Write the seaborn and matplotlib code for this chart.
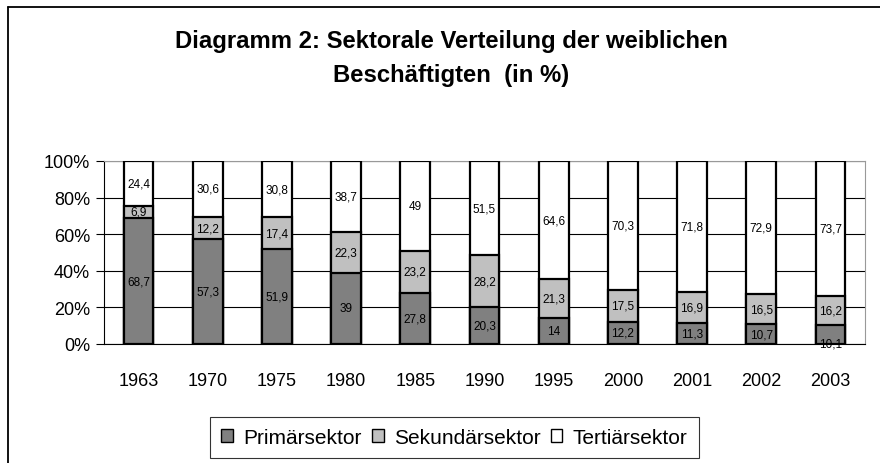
import numpy as np
import pandas as pd
import matplotlib
matplotlib.use("Agg")
import matplotlib.pyplot as plt
import seaborn as sns
from matplotlib.lines import Line2D
from matplotlib.patches import Patch

# === DATA ===
years = ["1963", "1970", "1975", "1980", "1985", "1990", "1995", "2000", "2001", "2002", "2003"]
primaer = [68.7, 57.3, 51.9, 39, 27.8, 20.3, 14, 12.2, 11.3, 10.7, 10.1]
sekundaer = [6.9, 12.2, 17.4, 22.3, 23.2, 28.2, 21.3, 17.5, 16.9, 16.5, 16.2]
tertiaer = [24.4, 30.6, 30.8, 38.7, 49, 51.5, 64.6, 70.3, 71.8, 72.9, 73.7]
sektoren = ["Primärsektor", "Sekundärsektor", "Tertiärsektor"]

# === 100% STACK ===
df = pd.DataFrame({"year": years, "p": primaer, "s": sekundaer, "t": tertiaer})
total = df[["p", "s", "t"]].sum(axis=1)
df["p_pct"] = df["p"] / total * 100
df["s_pct"] = df["s"] / total * 100
df["t_pct"] = df["t"] / total * 100
df["cum_ps"] = df["p_pct"] + df["s_pct"]
df["cum_all"] = df["cum_ps"] + df["t_pct"]

sns.set_style("white")
plt.rcParams["font.family"] = ["Liberation Sans", "DejaVu Sans"]
plt.rcParams["text.color"] = "black"
plt.rcParams["xtick.color"] = "black"
plt.rcParams["ytick.color"] = "black"

colors = {"p": "#808080", "s": "#c0c0c0", "t": "#ffffff"}

fig = plt.figure(figsize=(8.8, 4.64), dpi=100)
ax = fig.add_axes([0.118, 0.2565, 0.865, 0.3945])

# draw from back to front so each layer covers the one beneath
for col, c in [("cum_all", colors["t"]), ("cum_ps", colors["s"]), ("p_pct", colors["p"])]:
    sns.barplot(data=df, x="year", y=col, color=c, edgecolor="black", linewidth=1.6,
                width=0.43, saturation=1, ax=ax, zorder=3)

# data labels
for i, row in df.iterrows():
    segs = [(0, row["p_pct"], row["p"]), (row["p_pct"], row["cum_ps"], row["s"]),
            (row["cum_ps"], row["cum_all"], row["t"])]
    for k, (lo, hi, v) in enumerate(segs):
        y = (lo + hi) / 2
        if k == 0 and i == len(df) - 1:
            y = lo  # Excel pushed this one down onto the axis
        ax.text(i, y, f"{v:g}".replace(".", ","), ha="center", va="center",
                fontsize=8.5, color="black", zorder=5)

ax.set_xlim(-0.5, len(years) - 0.5)
ax.set_ylim(0, 100)
ax.set_yticks(np.arange(0, 101, 20))
ax.set_yticklabels([f"{v}%" for v in range(0, 101, 20)], fontsize=13)
ax.yaxis.grid(True, color="black", linewidth=0.8, zorder=0)
ax.set_axisbelow(True)
ax.set_xlabel("")
ax.set_ylabel("")

ax.set_xticks(np.arange(len(years)))
ax.set_xticklabels(years, fontsize=13)
ax.set_xticks(np.arange(-0.5, len(years)), minor=True)
ax.tick_params(axis="x", which="major", length=0, pad=20)
ax.tick_params(axis="x", which="minor", length=6, width=0.8, color="black", direction="out")
ax.tick_params(axis="y", length=6, width=0.8, color="black", direction="out", left=True, pad=4)

for side in ["left", "bottom"]:
    ax.spines[side].set_color("black")
    ax.spines[side].set_linewidth(0.8)
for side in ["top", "right"]:
    ax.spines[side].set_visible(True)
    ax.spines[side].set_color("#999999")
    ax.spines[side].set_linewidth(0.8)

fig.text(0.513, 0.874, "Diagramm 2: Sektorale Verteilung der weiblichen\nBeschäftigten  (in %)",
         ha="center", va="center", fontsize=17.2, fontweight="bold", linespacing=1.6)

handles = [Patch(facecolor=colors[k], edgecolor="black", linewidth=1) for k in ["p", "s", "t"]]
leg = fig.legend(handles, sektoren, loc="center", bbox_to_anchor=(0.5165, 0.055), ncol=3,
                 fontsize=15, frameon=True, fancybox=False, edgecolor="black",
                 handlelength=0.55, handleheight=0.55, handletextpad=0.5, columnspacing=0.5,
                 borderpad=0.55)
leg.get_frame().set_linewidth(0.8)

# chart-area border: only the top and left edges fall inside the picture
fig.add_artist(Line2D([8 / 880, 8 / 880], [0, 1 - 8 / 464], transform=fig.transFigure,
                      color="black", linewidth=1.3))
fig.add_artist(Line2D([8 / 880, 1], [1 - 8 / 464, 1 - 8 / 464], transform=fig.transFigure,
                      color="black", linewidth=1.3))

fig.savefig("out.png", dpi=100)
